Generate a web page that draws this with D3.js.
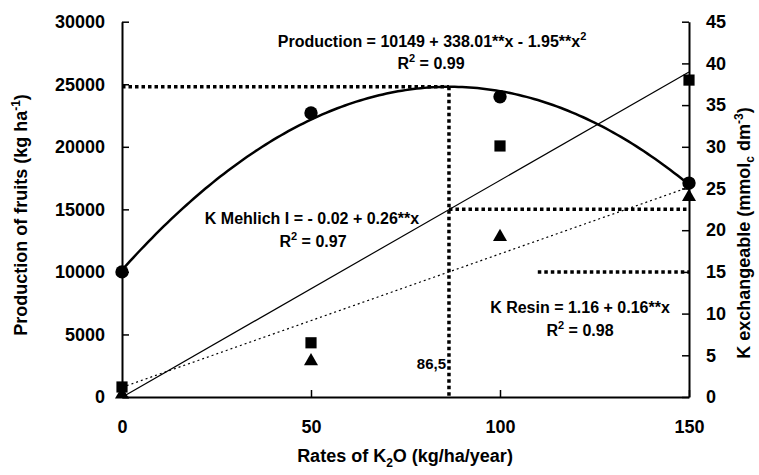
<!DOCTYPE html>
<html><head><meta charset="utf-8">
<script src="https://cdn.jsdelivr.net/npm/d3@7"></script>
<style>
body{margin:0;background:#fff}
text{font-family:"Liberation Sans",Arial,sans-serif;font-weight:bold;fill:#000}
</style>
</head><body><svg id="c" width="759" height="475"></svg>
<script>
// ---- data ----
const rates = [0, 50, 100, 150];
const production = [10000, 22700, 24000, 17100];   // kg/ha (left axis)
const kMehlich = [1.2, 6.5, 30.1, 38.0];            // mmolc/dm3 (right axis)
const kResin = [0.3, 4.3, 19.2, 24.0];              // mmolc/dm3 (right axis)
const prodCoef = [10149, 338.01, -1.95];             // fitted equation shown on chart
const mehlichCoef = [-0.02, 0.26];
const resinCoef = [1.16, 0.16];
const optimumRate = [86.5];
const optimumK = [22.5, 15.0];                       // K levels at the optimum rate
const lowerGuideStart = [110];
const xTicks = [0, 50, 100, 150];
const yLeftTicks = [0, 5000, 10000, 15000, 20000, 25000, 30000];
const yRightTicks = [0, 5, 10, 15, 20, 25, 30, 35, 40, 45];

const svg = d3.select("#c");
const x = d3.scaleLinear().domain([0, 150]).range([122, 689]);
const yL = d3.scaleLinear().domain([0, 30000]).range([397, 21.7]);
const yR = d3.scaleLinear().domain([0, 45]).range([397, 21.7]);

const poly = (c, v) => c.reduce((s, a, i) => s + a * Math.pow(v, i), 0);
const prodMax = poly(prodCoef, optimumRate[0]);

// guide dotted lines
const guide = svg.append("g").attr("stroke", "#000").attr("stroke-width", 3.5)
  .attr("stroke-dasharray", "3.5,3").attr("fill", "none");
guide.append("line").attr("x1", x(0)).attr("x2", x(optimumRate[0]))
  .attr("y1", yL(prodMax)).attr("y2", yL(prodMax));
guide.append("line").attr("x1", x(optimumRate[0])).attr("x2", x(optimumRate[0]))
  .attr("y1", yL(prodMax)).attr("y2", yL(0));
guide.append("line").attr("x1", x(optimumRate[0])).attr("x2", x(150))
  .attr("y1", yR(optimumK[0])).attr("y2", yR(optimumK[0]));
guide.append("line").attr("x1", x(lowerGuideStart[0])).attr("x2", x(150))
  .attr("y1", yR(optimumK[1])).attr("y2", yR(optimumK[1]));

// regression lines
svg.append("line").attr("stroke", "#000").attr("stroke-width", 1.2)
  .attr("x1", x(0)).attr("y1", yR(poly(mehlichCoef, 0)))
  .attr("x2", x(150)).attr("y2", yR(poly(mehlichCoef, 150)));
svg.append("line").attr("stroke", "#000").attr("stroke-width", 1.2).attr("stroke-dasharray", "2,3")
  .attr("x1", x(0)).attr("y1", yR(poly(resinCoef, 0)))
  .attr("x2", x(150)).attr("y2", yR(poly(resinCoef, 150)));
const curvePts = d3.range(0, 151, 1).map(v => [v, poly(prodCoef, v)]);
svg.append("path").datum(curvePts).attr("fill", "none").attr("stroke", "#000").attr("stroke-width", 2.5)
  .attr("d", d3.line().x(d => x(d[0])).y(d => yL(d[1])));

// axes
const fmt = d3.format("d");
const axL = svg.append("g").attr("transform", `translate(${x(0)},0)`)
  .call(d3.axisLeft(yL).tickValues(yLeftTicks).tickFormat(fmt).tickSize(-7).tickSizeOuter(0).tickPadding(17));
const axR = svg.append("g").attr("transform", `translate(${x(150)},0)`)
  .call(d3.axisRight(yR).tickValues(yRightTicks).tickFormat(fmt).tickSize(-7).tickSizeOuter(0).tickPadding(17));
const axB = svg.append("g").attr("transform", `translate(0,${yL(0)})`)
  .call(d3.axisBottom(x).tickValues(xTicks).tickFormat(fmt).tickSize(-7).tickSizeOuter(0).tickPadding(23));
[axL, axR, axB].forEach(a => {
  a.select(".domain").attr("stroke-width", 2);
  a.selectAll(".tick line").attr("stroke-width", 1.5);
  a.selectAll("text").attr("font-size", 18).attr("font-family", null);
});

// markers
const sym = (type, size) => d3.symbol().type(type).size(size)();
svg.append("g").selectAll("path").data(rates).join("path")
  .attr("transform", (d, i) => `translate(${x(d)},${yR(kResin[i])})`).attr("d", sym(d3.symbolTriangle, 85));
svg.append("g").selectAll("path").data(rates).join("path")
  .attr("transform", (d, i) => `translate(${x(d)},${yR(kMehlich[i])})`).attr("d", sym(d3.symbolSquare, 125));
svg.append("g").selectAll("path").data(rates).join("path")
  .attr("transform", (d, i) => `translate(${x(d)},${yL(production[i])})`).attr("d", sym(d3.symbolCircle, 140));

// equation labels
function eq(cx, cy, parts, size) {
  const t = svg.append("text").attr("x", cx).attr("y", cy).attr("text-anchor", "middle").attr("font-size", size || 16);
  parts.forEach(p => {
    if (typeof p === "string") t.append("tspan").text(p);
    else if (p.sup) { t.append("tspan").attr("font-size", 11).attr("dy", -7).text(p.sup);
      if (p.after) t.append("tspan").attr("dy", 7).text(p.after); }
    else if (p.sub) { t.append("tspan").attr("font-size", 12).attr("dy", 5).text(p.sub);
      if (p.after) t.append("tspan").attr("dy", -5).text(p.after); }
  });
  return t;
}
eq(432, 47, ["Production = 10149 + 338.01**x - 1.95**x", {sup: "2"}]);
eq(431, 69, ["R", {sup: "2", after: " = 0.99"}]);
eq(312, 224, ["K Mehlich I = - 0.02 + 0.26**x"]);
eq(313, 247, ["R", {sup: "2", after: " = 0.97"}]);
eq(580, 313, ["K Resin = 1.16 + 0.16**x"]);
eq(580, 336, ["R", {sup: "2", after: " = 0.98"}]);
svg.append("text").attr("x", 446).attr("y", 369).attr("text-anchor", "end").attr("font-size", 15).text("86,5");

// axis titles
eq(405, 462, ["Rates of K", {sub: "2", after: "O (kg/ha/year)"}], 18);
const lt = svg.append("text").attr("transform", "translate(26.5,215) rotate(-90)")
  .attr("text-anchor", "middle").attr("font-size", 18);
lt.append("tspan").text("Production of fruits (kg ha");
lt.append("tspan").attr("font-size", 12).attr("dy", -7).text("-1");
lt.append("tspan").attr("dy", 7).text(")");
const rt = svg.append("text").attr("transform", "translate(750,233) rotate(-90)")
  .attr("text-anchor", "middle").attr("font-size", 18);
rt.append("tspan").text("K exchangeable (mmol");
rt.append("tspan").attr("font-size", 12).attr("dy", 4).text("c");
rt.append("tspan").attr("dy", -4).text(" dm");
rt.append("tspan").attr("font-size", 12).attr("dy", -7).text("-3");
rt.append("tspan").attr("dy", 7).text(")");
</script>
</body></html>
